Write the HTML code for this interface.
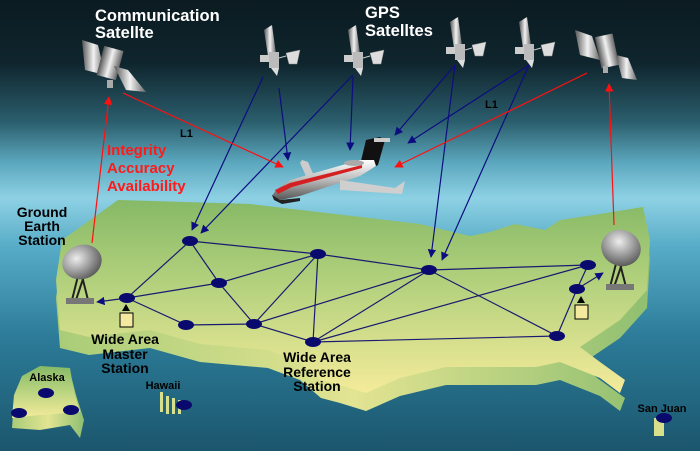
<!DOCTYPE html>
<html><head><meta charset="utf-8"><style>
html,body{margin:0;padding:0;width:700px;height:451px;overflow:hidden}
svg{display:block}
text{font-family:"Liberation Sans",sans-serif;font-weight:bold}
</style></head><body>
<svg width="700" height="451" viewBox="0 0 700 451" xmlns="http://www.w3.org/2000/svg">
<defs>
<linearGradient id="sky" x1="0" y1="0" x2="0" y2="1">
<stop offset="0" stop-color="#0b1b21"/><stop offset="0.14" stop-color="#0f252d"/>
<stop offset="0.27" stop-color="#2b5e6d"/><stop offset="0.36" stop-color="#5ba7be"/>
<stop offset="0.44" stop-color="#8ed1e4"/><stop offset="0.55" stop-color="#56abc6"/>
<stop offset="0.75" stop-color="#2c7b98"/><stop offset="1" stop-color="#1b566d"/>
</linearGradient>
<linearGradient id="land" x1="0" y1="0" x2="0" y2="1">
<stop offset="0" stop-color="#86b966"/><stop offset="0.45" stop-color="#b5d27e"/><stop offset="1" stop-color="#f4eb9a"/>
</linearGradient>
<linearGradient id="side" x1="0" y1="0" x2="1" y2="0">
<stop offset="0" stop-color="#a9cc78"/><stop offset="0.5" stop-color="#e2e492"/><stop offset="1" stop-color="#8fbf70"/>
</linearGradient>
<linearGradient id="metal" x1="0" y1="0" x2="1" y2="0">
<stop offset="0" stop-color="#555"/><stop offset="0.5" stop-color="#f2f2f2"/><stop offset="1" stop-color="#666"/>
</linearGradient>
<linearGradient id="fus" x1="0" y1="0" x2="0" y2="1">
<stop offset="0" stop-color="#fff"/><stop offset="0.5" stop-color="#bbb"/><stop offset="1" stop-color="#555"/>
</linearGradient>
<radialGradient id="dish" cx="0.4" cy="0.35" r="0.7">
<stop offset="0" stop-color="#eee"/><stop offset="1" stop-color="#555"/>
</radialGradient>
<marker id="ab" viewBox="0 0 10 10" refX="9" refY="5" markerWidth="7" markerHeight="7" orient="auto"><path d="M0,0L10,5L0,10z" fill="#0d0d80"/></marker>
<marker id="ar" viewBox="0 0 10 10" refX="9" refY="5" markerWidth="7" markerHeight="7" orient="auto"><path d="M0,0L10,5L0,10z" fill="#ff1010"/></marker>
<g id="gps">
<polygon points="-8,-28 0,-33 4,-4 -4,-2" fill="url(#metal)"/>
<rect x="-3" y="-6" width="10" height="16" fill="#bbb"/>
<rect x="-12" y="-3" width="9" height="7" fill="#ccc"/>
<polygon points="-1,10 7,10 5,18" fill="#ddd"/>
<line x1="7" y1="0" x2="14" y2="-2" stroke="#ccc"/>
<polygon points="14,-5 28,-8 25,6 17,6" fill="#ddd" stroke="#888" stroke-width="0.5"/>
</g>
</defs>
<rect width="700" height="451" fill="url(#sky)"/>
<g transform="translate(0,18)">
<polygon fill="url(#side)" points="118,200 250,204 420,224 470,236 490,232 515,224 545,230 560,220 600,214 643,207 650,240 647,290 620,320 580,347 600,362 625,380 620,393 600,378 560,362 536,367 446,367 400,378 366,393 340,385 321,380 300,362 268,350 200,344 150,330 89,337 60,330 56,280 62,240"/>
</g>
<polygon fill="url(#land)" points="118,200 250,204 420,224 470,236 490,232 515,224 545,230 560,220 600,214 643,207 650,240 647,290 620,320 580,347 600,362 625,380 620,393 600,378 560,362 536,367 446,367 400,378 366,393 340,385 321,380 300,362 268,350 200,344 150,330 89,337 60,330 56,280 62,240"/>
<polygon fill="url(#side)" points="14,400 22,380 40,370 70,372 76,395 84,420 80,438 70,425 40,430 12,428"/>
<polygon fill="url(#land)" points="14,395 22,376 40,366 70,368 74,392 80,412 40,415 12,418"/>
<rect x="160" y="392" width="3" height="20" fill="#d8e08c"/><rect x="166" y="396" width="3" height="18" fill="#d8e08c"/><rect x="172" y="398" width="3" height="16" fill="#d8e08c"/><rect x="178" y="400" width="3" height="14" fill="#d8e08c"/>
<rect x="654" y="418" width="10" height="18" fill="#d8e08c"/>
<g stroke="#1a1a70" stroke-width="1.2" fill="none">
<path d="M190,241L318,254L429,270L588,265M190,241L219,283L254,324L318,254L313,342L254,324L186,325L127,298L190,241M127,298L219,283L318,254M254,324L429,270L313,342L588,265M429,270L557,336L577,289L588,265M313,342L557,336"/>
<path d="M127,298L97,302" marker-end="url(#ab)"/>
<path d="M577,289L603,273" marker-end="url(#ab)"/>
</g>
<g fill="#0a0a6e">
<ellipse cx="190" cy="241" rx="8" ry="5"/><ellipse cx="318" cy="254" rx="8" ry="5"/><ellipse cx="429" cy="270" rx="8" ry="5"/>
<ellipse cx="588" cy="265" rx="8" ry="5"/><ellipse cx="577" cy="289" rx="8" ry="5"/><ellipse cx="219" cy="283" rx="8" ry="5"/>
<ellipse cx="127" cy="298" rx="8" ry="5"/><ellipse cx="186" cy="325" rx="8" ry="5"/><ellipse cx="254" cy="324" rx="8" ry="5"/>
<ellipse cx="313" cy="342" rx="8" ry="5"/><ellipse cx="557" cy="336" rx="8" ry="5"/>
<ellipse cx="46" cy="393" rx="8" ry="5"/><ellipse cx="19" cy="413" rx="8" ry="5"/><ellipse cx="71" cy="410" rx="8" ry="5"/>
<ellipse cx="184" cy="405" rx="8" ry="5"/><ellipse cx="664" cy="418" rx="8" ry="5"/>
</g>
<rect x="120" y="313" width="13" height="14" fill="#f3eaa0" stroke="#000"/><polygon points="126,304 122,311 130,311" fill="#000"/>
<rect x="575" y="305" width="13" height="14" fill="#f3eaa0" stroke="#000"/><polygon points="581,296 577,303 585,303" fill="#000"/>
<g><path d="M72,300L80,268L88,300M76,300L86,270" stroke="#222" stroke-width="2" fill="none"/><rect x="66" y="298" width="28" height="6" fill="#777"/>
<ellipse cx="82" cy="262" rx="20" ry="17" fill="url(#dish)" transform="rotate(-20 82 262)"/></g>
<g><path d="M610,287L618,256L626,287M614,287L624,258" stroke="#222" stroke-width="2" fill="none"/><rect x="606" y="284" width="28" height="6" fill="#777"/>
<ellipse cx="621" cy="248" rx="20" ry="18" fill="url(#dish)" transform="rotate(20 621 248)"/></g>
<g stroke="#0d0d80" stroke-width="1.2" fill="none" marker-end="url(#ab)">
<path d="M263,77L192,230"/><path d="M353,75L201,233"/><path d="M279,88L288,160"/><path d="M353,77L350,150"/>
<path d="M455,65L395,135"/><path d="M455,65L431,257"/><path d="M529,65L408,143"/><path d="M529,65L442,260"/>
</g>
<g stroke="#ff1010" stroke-width="1.2" fill="none" marker-end="url(#ar)">
<path d="M123,93L283,167"/><path d="M587,73L395,167"/><path d="M92,243L109,97"/><path d="M614,225L609,84"/>
</g>
<use href="#gps" x="272" y="58"/><use href="#gps" x="356" y="58"/><use href="#gps" x="458" y="50"/><use href="#gps" x="527" y="50"/>
<g><polygon points="82,40 98,45 105,75 85,70" fill="url(#metal)"/><rect x="100" y="48" width="20" height="30" fill="url(#metal)" transform="rotate(15 110 63)"/>
<polygon points="114,66 128,70 146,92 126,90" fill="url(#metal)"/><rect x="107" y="80" width="6" height="8" fill="#aaa"/></g>
<g><polygon points="575,30 592,36 600,60 580,55" fill="url(#metal)"/><rect x="598" y="35" width="18" height="32" fill="url(#metal)" transform="rotate(-12 607 51)"/>
<polygon points="616,55 628,58 637,80 622,78" fill="url(#metal)"/><rect x="603" y="66" width="5" height="7" fill="#aaa"/></g>
<!-- airplane -->
<g>
<polygon points="300,163 302,160 308,162 314,176 306,176" fill="#ccc"/>
<polygon points="366,140 380,137 385,140 378,165 365,172 360,165" fill="#111"/>
<rect x="374" y="138" width="16" height="4" fill="#ccc"/>
<polygon points="276,190 290,180 360,160 374,160 376,166 360,176 300,196 280,200 272,196" fill="url(#fus)"/>
<polygon points="275,190 290,183 362,165 362,168 292,187 278,194" fill="#d42020"/>
<polygon points="272,195 280,200 300,198 300,201 282,204 274,200" fill="#222"/>
<polygon points="340,180 395,188 405,181 402,194 340,190" fill="#cfcfcf"/>
<ellipse cx="354" cy="163" rx="10" ry="3" fill="#aaa"/>
</g>
<text x="95" y="21" font-size="16.5" fill="#fff">Communication</text>
<text x="95" y="38" font-size="16.5" fill="#fff">Satellte</text>
<text x="365" y="18" font-size="16.5" fill="#fff">GPS</text>
<text x="365" y="36" font-size="16.5" fill="#fff">Satelltes</text>
<text x="180" y="137" font-size="11" fill="#000">L1</text>
<text x="485" y="108" font-size="11" fill="#000">L1</text>
<text x="107" y="155" font-size="15" fill="#ff1a1a">Integrity</text>
<text x="107" y="173" font-size="15" fill="#ff1a1a">Accuracy</text>
<text x="107" y="191" font-size="15" fill="#ff1a1a">Availability</text>
<g font-size="14" fill="#000" text-anchor="middle">
<text x="42" y="217">Ground</text><text x="42" y="231">Earth</text><text x="42" y="245">Station</text>
<text x="125" y="344">Wide Area</text><text x="125" y="359">Master</text><text x="125" y="373">Station</text>
<text x="317" y="362">Wide Area</text><text x="317" y="377">Reference</text><text x="317" y="391">Station</text>
</g>
<g font-size="11" fill="#000" text-anchor="middle">
<text x="47" y="381">Alaska</text><text x="163" y="389">Hawaii</text><text x="662" y="412">San Juan</text>
</g>
</svg>
</body></html>
